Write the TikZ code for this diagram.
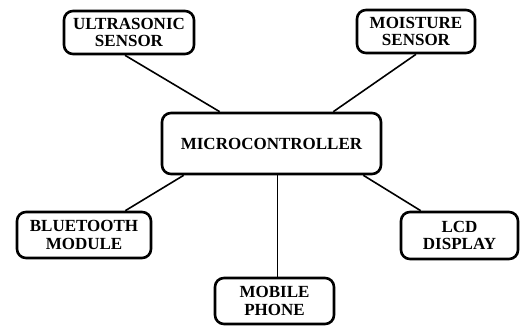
\documentclass[tikz,border=0pt]{standalone}
\usepackage{fontspec}
\setmainfont{Liberation Serif}
\usepackage{tikz}
\usetikzlibrary{positioning,calc}

\tikzset{
  blockbox/.style={draw, line width=1.3pt, rounded corners=4.5pt, align=center,
    font=\fontsize{8.5}{8.7}\selectfont\bfseries, inner sep=2pt},
  link/.style={line width=0.8pt}
}

\begin{document}
\begin{tikzpicture}[x=0.5pt, y=0.5pt]
  \useasboundingbox (0,0) rectangle (520,326);
  % blocks
  \node[blockbox, minimum width=65pt, minimum height=21.5pt] (us) at (129,293.5) {ULTRASONIC\\SENSOR};
  \node[blockbox, minimum width=59pt, minimum height=21.5pt] (ms) at (416,294.5) {MOISTURE\\SENSOR};
  \node[blockbox, minimum width=109.5pt, minimum height=30.5pt] (mc) at (271.5,182.5) {MICROCONTROLLER};
  \node[blockbox, minimum width=67pt, minimum height=23pt] (bt) at (84,91) {BLUETOOTH\\MODULE};
  \node[blockbox, minimum width=59.5pt, minimum height=23pt] (mp) at (274.5,25) {MOBILE\\PHONE};
  \node[blockbox, minimum width=58.5pt, minimum height=23.5pt] (lcd) at (459.5,90.5) {LCD\\DISPLAY};
  % links
  \draw[link] ([xshift=-2pt]us.south) -- ([xshift=29.5pt]mc.north west);
  \draw[link] (ms.south) -- ([xshift=-24.5pt]mc.north east);
  \draw[link] ([xshift=11.5pt]mc.south west) -- ([xshift=-13.5pt]bt.north east);
  \draw[link] ([xshift=1.5pt]mp.north) -- ([xshift=1.5pt]mp.north |- mc.south);
  \draw[link] ([xshift=-9.5pt]mc.south east) -- ([xshift=10.5pt]lcd.north west);
\end{tikzpicture}
\end{document}
